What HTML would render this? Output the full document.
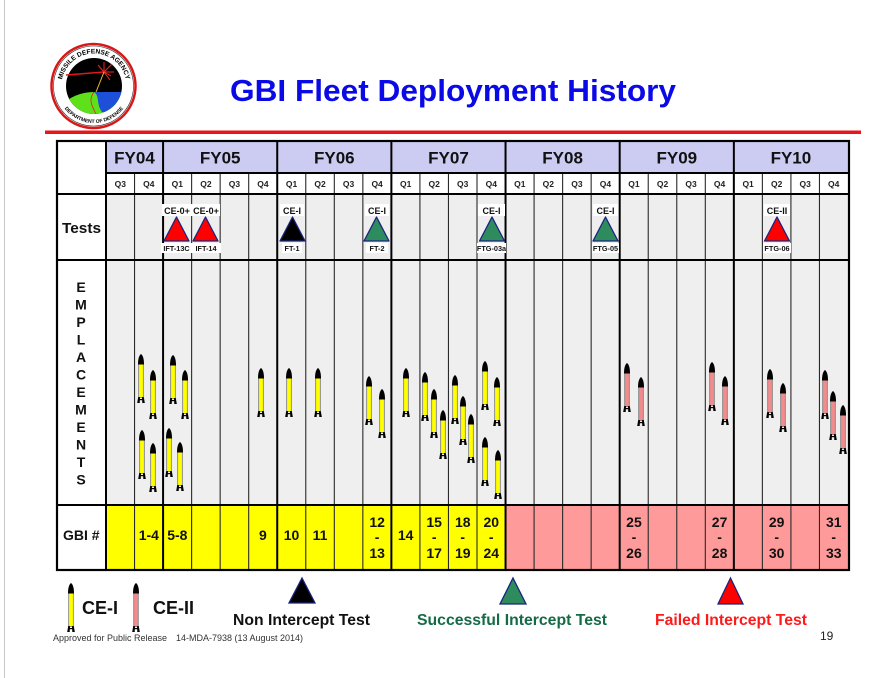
<!DOCTYPE html>
<html><head><meta charset="utf-8"><style>
html,body{margin:0;padding:0;background:#fff;}
svg{display:block;font-family:"Liberation Sans",Arial,sans-serif;}
</style></head><body>
<svg width="874" height="678" viewBox="0 0 874 678" xmlns="http://www.w3.org/2000/svg">
<defs>
<g id="rk">
<rect x="-2.2" y="9.5" width="4.4" height="34" stroke="#333" stroke-width="0.5"/>
<path d="M0,0 C2,1.5 3,5 3,10.5 L-3,10.5 C-3,5 -2,1.5 0,0 Z" fill="#000"/>
<path d="M-3.8,49 L-2.8,43 L-1,43 L-1.3,49 Z M3.8,49 L2.8,43 L1,43 L1.3,49 Z" fill="#000"/>
<rect x="-3" y="45" width="6" height="1.2" fill="#000"/>
</g>
<path id="tri" d="M0,0 L12.5,24 L-12.5,24 Z" stroke="#1a237e" stroke-width="1.3" stroke-linejoin="round"/>
<clipPath id="inner"><circle cx="94" cy="86" r="28"/></clipPath>
<path id="arcTop" d="M67.4,104.6 A32.5 32.5 0 1 1 120.6,104.6" fill="none"/>
<path id="arcBot" d="M57,86 A37 37 0 0 0 131,86" fill="none"/>
</defs>

<rect x="4" y="0" width="1" height="678" fill="#c8c8c8"/>

<!-- logo -->
<circle cx="93.5" cy="86" r="42" fill="#fff" stroke="#d81818" stroke-width="2.5"/>
<circle cx="93.5" cy="86" r="40" fill="none" stroke="#222" stroke-width="0.6"/>
<circle cx="94" cy="86" r="28" fill="#000"/>
<g clip-path="url(#inner)">
<circle cx="94" cy="140" r="48" fill="#5ee01a"/>
<path d="M94,92 C100,96 96,104 102,112 L130,118 L130,92 Z" fill="#1e4fd8"/>
<path d="M94,92 C88,100 92,106 96,114" stroke="#e02020" stroke-width="0.8" fill="none"/>
</g>
<line x1="66" y1="75" x2="104" y2="72" stroke="#e01818" stroke-width="1.4"/>
<g stroke="#ff2020" stroke-width="1">
<line x1="104" y1="72" x2="112" y2="64"/><line x1="104" y1="72" x2="114" y2="72"/>
<line x1="104" y1="72" x2="110" y2="80"/><line x1="104" y1="72" x2="104" y2="62"/>
<line x1="104" y1="72" x2="98" y2="65"/><line x1="104" y1="72" x2="111" y2="76"/>
</g>
<line x1="104" y1="72" x2="96" y2="92" stroke="#f0c020" stroke-width="1"/>
<text font-size="6.6" font-weight="bold" fill="#000"><textPath href="#arcTop" startOffset="50%" text-anchor="middle">MISSILE DEFENSE AGENCY</textPath></text>
<text font-size="5" font-weight="bold" fill="#000"><textPath href="#arcBot" startOffset="50%" text-anchor="middle">DEPARTMENT OF DEFENSE</textPath></text>

<!-- title -->
<text x="230" y="101" font-size="31" font-weight="bold" fill="#0a0ae6" textLength="446" lengthAdjust="spacingAndGlyphs">GBI Fleet Deployment History</text>
<rect x="45" y="130.5" width="816" height="3.5" fill="#e8151b"/>

<!-- table fills -->
<rect x="106" y="141" width="743" height="32" fill="#ccccf2"/>
<rect x="106" y="194" width="743" height="66" fill="#eeeeee"/>
<rect x="106" y="260" width="743" height="245" fill="#efefef"/>
<rect x="106" y="505" width="399.5" height="65" fill="#ffff00"/>
<rect x="505.5" y="505" width="343.5" height="65" fill="#ff9a9a"/>

<!-- quarter lines -->
<g stroke="#2a2a2a" stroke-width="1.1">
<line x1="134.54" y1="173" x2="134.54" y2="570"/>
<line x1="191.62" y1="173" x2="191.62" y2="570"/>
<line x1="220.15" y1="173" x2="220.15" y2="570"/>
<line x1="248.69" y1="173" x2="248.69" y2="570"/>
<line x1="305.77" y1="173" x2="305.77" y2="570"/>
<line x1="334.31" y1="173" x2="334.31" y2="570"/>
<line x1="362.85" y1="173" x2="362.85" y2="570"/>
<line x1="419.92" y1="173" x2="419.92" y2="570"/>
<line x1="448.46" y1="173" x2="448.46" y2="570"/>
<line x1="477.0" y1="173" x2="477.0" y2="570"/>
<line x1="534.08" y1="173" x2="534.08" y2="570"/>
<line x1="562.62" y1="173" x2="562.62" y2="570"/>
<line x1="591.15" y1="173" x2="591.15" y2="570"/>
<line x1="648.23" y1="173" x2="648.23" y2="570"/>
<line x1="676.77" y1="173" x2="676.77" y2="570"/>
<line x1="705.31" y1="173" x2="705.31" y2="570"/>
<line x1="762.38" y1="173" x2="762.38" y2="570"/>
<line x1="790.92" y1="173" x2="790.92" y2="570"/>
<line x1="819.46" y1="173" x2="819.46" y2="570"/>
</g>
<!-- FY & structural lines -->
<g stroke="#000" stroke-width="2">
<line x1="106" y1="141" x2="106" y2="570"/>
<line x1="163.08" y1="141" x2="163.08" y2="570"/>
<line x1="277.23" y1="141" x2="277.23" y2="570"/>
<line x1="391.38" y1="141" x2="391.38" y2="570"/>
<line x1="505.54" y1="141" x2="505.54" y2="570"/>
<line x1="619.69" y1="141" x2="619.69" y2="570"/>
<line x1="733.85" y1="141" x2="733.85" y2="570"/>
<line x1="106" y1="173" x2="849" y2="173"/>
<line x1="57" y1="194" x2="849" y2="194"/>
<line x1="57" y1="260" x2="849" y2="260"/>
<line x1="57" y1="505" x2="849" y2="505"/>
</g>
<rect x="57" y="141" width="792" height="429" fill="none" stroke="#000" stroke-width="2.2"/>

<!-- FY labels -->
<g font-size="17" font-weight="bold" fill="#111" text-anchor="middle">
<text x="134.5" y="163.5">FY04</text>
<text x="220.2" y="163.5">FY05</text>
<text x="334.3" y="163.5">FY06</text>
<text x="448.5" y="163.5">FY07</text>
<text x="562.6" y="163.5">FY08</text>
<text x="676.8" y="163.5">FY09</text>
<text x="790.9" y="163.5">FY10</text>
</g>
<!-- Q labels -->
<g font-size="8.5" font-weight="bold" fill="#222" text-anchor="middle">
<text x="120.27" y="187">Q3</text><text x="148.81" y="187">Q4</text>
<text x="177.35" y="187">Q1</text><text x="205.88" y="187">Q2</text><text x="234.42" y="187">Q3</text><text x="262.96" y="187">Q4</text>
<text x="291.5" y="187">Q1</text><text x="320.04" y="187">Q2</text><text x="348.58" y="187">Q3</text><text x="377.12" y="187">Q4</text>
<text x="405.65" y="187">Q1</text><text x="434.19" y="187">Q2</text><text x="462.73" y="187">Q3</text><text x="491.27" y="187">Q4</text>
<text x="519.81" y="187">Q1</text><text x="548.35" y="187">Q2</text><text x="576.88" y="187">Q3</text><text x="605.42" y="187">Q4</text>
<text x="633.96" y="187">Q1</text><text x="662.5" y="187">Q2</text><text x="691.04" y="187">Q3</text><text x="719.58" y="187">Q4</text>
<text x="748.12" y="187">Q1</text><text x="776.65" y="187">Q2</text><text x="805.19" y="187">Q3</text><text x="833.73" y="187">Q4</text>
</g>

<!-- row labels -->
<text x="62" y="233" font-size="15" font-weight="bold" fill="#111" textLength="39" lengthAdjust="spacingAndGlyphs">Tests</text>
<text x="63" y="540" font-size="14" font-weight="bold" fill="#111">GBI #</text>
<g font-size="14" font-weight="bold" fill="#111" text-anchor="middle">
<text x="81" y="292">E</text><text x="81" y="309.5">M</text><text x="81" y="327">P</text><text x="81" y="344.5">L</text>
<text x="81" y="362">A</text><text x="81" y="379.5">C</text><text x="81" y="397">E</text><text x="81" y="414.5">M</text>
<text x="81" y="432">E</text><text x="81" y="449.5">N</text><text x="81" y="467">T</text><text x="81" y="484.5">S</text>
</g>

<!-- tests -->
<g fill="#fff">
<rect x="162" y="204" width="58" height="12"/><rect x="161" y="243" width="60" height="10"/>
<rect x="280" y="204" width="24" height="12"/><rect x="282" y="243" width="20" height="10"/>
<rect x="365" y="204" width="24" height="12"/><rect x="366" y="243" width="22" height="10"/>
<rect x="478" y="204" width="27" height="12"/><rect x="477" y="243" width="29" height="10"/>
<rect x="593" y="204" width="25" height="12"/><rect x="592" y="243" width="27" height="10"/>
<rect x="764" y="204" width="26" height="12"/><rect x="763" y="243" width="28" height="10"/>
</g>
<use href="#tri" x="176.5" y="217" fill="#ff0000"/>
<use href="#tri" x="205.5" y="217" fill="#ff0000"/>
<use href="#tri" x="292.5" y="217" fill="#000000"/>
<use href="#tri" x="376.5" y="217" fill="#2e8b5e"/>
<use href="#tri" x="492" y="217" fill="#2e8b5e"/>
<use href="#tri" x="605.5" y="217" fill="#2e8b5e"/>
<use href="#tri" x="777" y="217" fill="#ff0000"/>
<g font-size="9" font-weight="bold" fill="#111" text-anchor="middle">
<text x="177" y="214">CE-0+</text><text x="206" y="214">CE-0+</text>
<text x="292" y="214">CE-I</text><text x="377" y="214">CE-I</text>
<text x="491.5" y="214">CE-I</text><text x="605.5" y="214">CE-I</text>
<text x="777" y="214">CE-II</text>
</g>
<g font-size="7.3" font-weight="bold" fill="#111" text-anchor="middle">
<text x="176.5" y="251">IFT-13C</text><text x="206" y="251">IFT-14</text>
<text x="292" y="251">FT-1</text><text x="377" y="251">FT-2</text>
<text x="491.5" y="251">FTG-03a</text><text x="605.5" y="251">FTG-05</text>
<text x="777" y="251">FTG-06</text>
</g>

<!-- rockets yellow -->
<g fill="#ffff00">
<use href="#rk" x="141" y="354"/><use href="#rk" x="153" y="370"/>
<use href="#rk" x="142" y="430"/><use href="#rk" x="153" y="443"/>
<use href="#rk" x="173" y="355"/><use href="#rk" x="185" y="370"/>
<use href="#rk" x="169" y="428"/><use href="#rk" x="180" y="442"/>
<use href="#rk" x="261" y="368"/><use href="#rk" x="289" y="368"/><use href="#rk" x="318" y="368"/>
<use href="#rk" x="369" y="376"/><use href="#rk" x="382" y="389"/>
<use href="#rk" x="406" y="368"/>
<use href="#rk" x="425" y="372"/><use href="#rk" x="434" y="389"/><use href="#rk" x="443" y="410"/>
<use href="#rk" x="455" y="375"/><use href="#rk" x="463" y="396"/><use href="#rk" x="471" y="414"/>
<use href="#rk" x="485" y="361"/><use href="#rk" x="497" y="377"/>
<use href="#rk" x="485" y="437"/><use href="#rk" x="498" y="450"/>
<use href="#rk" x="71" y="583"/>
</g>
<!-- rockets pink -->
<g fill="#f28c8c">
<use href="#rk" x="627" y="363"/><use href="#rk" x="641" y="377"/>
<use href="#rk" x="712" y="362"/><use href="#rk" x="725" y="376"/>
<use href="#rk" x="770" y="369"/><use href="#rk" x="783" y="383"/>
<use href="#rk" x="825" y="370"/><use href="#rk" x="833" y="391"/><use href="#rk" x="843" y="405"/>
<use href="#rk" x="136" y="583"/>
</g>

<!-- GBI numbers -->
<g font-size="14" font-weight="bold" fill="#111" text-anchor="middle">
<text x="148.81" y="540">1-4</text>
<text x="177.35" y="540">5-8</text>
<text x="262.96" y="540">9</text>
<text x="291.5" y="540">10</text>
<text x="320.04" y="540">11</text>
<text x="405.65" y="540">14</text>
<text x="377.12" y="527">12</text><text x="377.12" y="542">-</text><text x="377.12" y="558">13</text>
<text x="434.19" y="527">15</text><text x="434.19" y="542">-</text><text x="434.19" y="558">17</text>
<text x="462.73" y="527">18</text><text x="462.73" y="542">-</text><text x="462.73" y="558">19</text>
<text x="491.27" y="527">20</text><text x="491.27" y="542">-</text><text x="491.27" y="558">24</text>
<text x="633.96" y="527">25</text><text x="633.96" y="542">-</text><text x="633.96" y="558">26</text>
<text x="719.58" y="527">27</text><text x="719.58" y="542">-</text><text x="719.58" y="558">28</text>
<text x="776.65" y="527">29</text><text x="776.65" y="542">-</text><text x="776.65" y="558">30</text>
<text x="833.73" y="527">31</text><text x="833.73" y="542">-</text><text x="833.73" y="558">33</text>
</g>

<!-- legend -->
<text x="82" y="614" font-size="18" font-weight="bold" fill="#111">CE-I</text>
<text x="153" y="614" font-size="18" font-weight="bold" fill="#111">CE-II</text>
<path d="M302,578 L315,603 L289,603 Z" fill="#000" stroke="#1a237e" stroke-width="1.3"/>
<path d="M513,578 L526,604 L500,604 Z" fill="#2e8b5e" stroke="#1a237e" stroke-width="1.3"/>
<path d="M730.5,578 L743,604 L718,604 Z" fill="#ff0000" stroke="#1a237e" stroke-width="1.3"/>
<text x="233" y="625" font-size="16" font-weight="bold" fill="#111" textLength="137" lengthAdjust="spacingAndGlyphs">Non Intercept Test</text>
<text x="417" y="625" font-size="16" font-weight="bold" fill="#146b45" textLength="190" lengthAdjust="spacingAndGlyphs">Successful Intercept Test</text>
<text x="655" y="625" font-size="16" font-weight="bold" fill="#ff1a1a" textLength="152" lengthAdjust="spacingAndGlyphs">Failed Intercept Test</text>
<text x="53" y="641" font-size="9" fill="#333" textLength="114" lengthAdjust="spacingAndGlyphs">Approved for Public Release</text>
<text x="176" y="641" font-size="9" fill="#333" textLength="127" lengthAdjust="spacingAndGlyphs">14-MDA-7938 (13 August 2014)</text>
<text x="820" y="640" font-size="12" fill="#222">19</text>
</svg>
</body></html>
